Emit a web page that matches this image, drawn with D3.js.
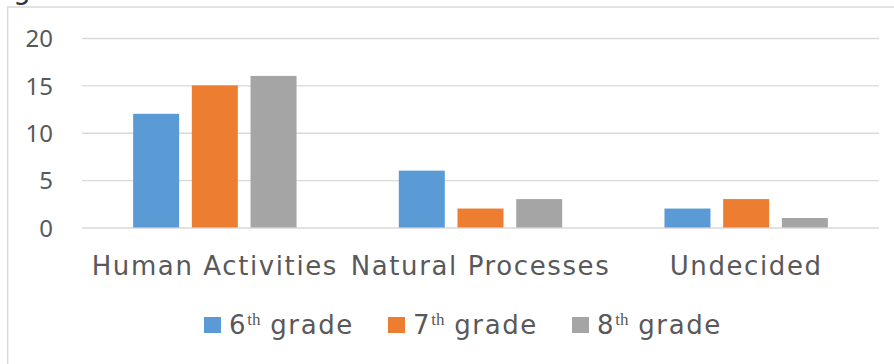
<!DOCTYPE html>
<html>
<head>
<meta charset="utf-8">
<script src="https://cdn.jsdelivr.net/npm/d3@7"></script>
<style>
  html, body { margin: 0; padding: 0; background: #fff; }
  svg { display: block; }
</style>
</head>
<body>
<svg id="chart" width="894" height="364"></svg>
<script>
const categories = ["Human Activities", "Natural Processes", "Undecided"];
const seriesNames = ["6", "7", "8"];
const seriesSuffix = "th";
const seriesWord = " grade";
const grade6 = [12, 6, 2];
const grade7 = [15, 2, 3];
const grade8 = [16, 3, 1];
const yTicks = [0, 5, 10, 15, 20];
const colors = ["#5B9BD5", "#ED7D31", "#A5A5A5"];

const seriesValues = [grade6, grade7, grade8];
const svg = d3.select("#chart");
const textColor = "#595959";
const labelFont = "'DejaVu Sans', sans-serif";

// partially cropped title glyph at top (cut off in the reference as well)
svg.append("text").attr("x", 13).attr("y", -1)
  .attr("font-family", labelFont).attr("font-size", 28).attr("fill", "#333")
  .text("g");

// chart border
svg.append("path")
  .attr("d", "M7.7,364 L7.7,7 L894,7")
  .attr("fill", "none").attr("stroke", "#d9d9d9").attr("stroke-width", 1.4);

const plotLeft = 82, plotRight = 879;
const y = d3.scaleLinear().domain([0, 20]).range([227.5, 38]);
const x0 = d3.scaleBand().domain(categories).range([plotLeft, plotRight]);
const groupW = 163.4;
const x1 = d3.scaleBand().domain(seriesNames)
  .range([(x0.bandwidth() - groupW) / 2, (x0.bandwidth() + groupW) / 2])
  .paddingInner(0.2164).paddingOuter(0);

// gridlines + tick labels
const yAxis = d3.axisLeft(y).tickValues(yTicks).tickSize(-(plotRight - plotLeft)).tickPadding(28);
const ga = svg.append("g").attr("transform", `translate(${plotLeft},0)`).call(yAxis);
ga.select(".domain").remove();
ga.selectAll(".tick line").attr("stroke", "#d9d9d9").attr("stroke-width", 1.4);
ga.selectAll(".tick text")
  .attr("x", -(plotLeft - 53))
  .attr("font-family", "'Noto Sans', sans-serif").attr("font-size", 24)
  .attr("fill", textColor).attr("dy", "0.36em");

// bars
const groups = svg.append("g").selectAll("g").data(categories).join("g")
  .attr("transform", d => `translate(${x0(d)},0)`);
groups.selectAll("rect")
  .data((c, ci) => seriesNames.map((s, si) => ({ s, si, v: seriesValues[si][ci] })))
  .join("rect")
  .attr("x", d => x1(d.s))
  .attr("width", x1.bandwidth())
  .attr("y", d => y(d.v))
  .attr("height", d => y(0) - y(d.v))
  .attr("fill", d => colors[d.si]);

// x axis labels
const xAxis = d3.axisBottom(x0).tickSize(0).tickPadding(0);
const gx = svg.append("g").attr("transform", `translate(0,275)`).call(xAxis);
gx.select(".domain").remove();
gx.selectAll(".tick text")
  .attr("y", 0).attr("dy", 0)
  .attr("font-family", labelFont).attr("font-size", 26)
  .attr("letter-spacing", 1.6)
  .attr("fill", textColor);

// legend
const legend = svg.append("g");
const legendStart = 204, legendStep = 184;
seriesNames.forEach((s, i) => {
  const lx = legendStart + i * legendStep;
  legend.append("rect").attr("x", lx).attr("y", 317).attr("width", 17).attr("height", 16)
    .attr("fill", colors[i]);
  const t = legend.append("text").attr("x", lx + 25).attr("y", 334)
    .attr("font-family", labelFont).attr("font-size", 26).attr("letter-spacing", 1.6)
    .attr("fill", textColor);
  t.append("tspan").text(s);
  t.append("tspan").attr("font-family", "'Liberation Serif', serif").attr("font-size", 17)
    .attr("letter-spacing", 0).attr("dy", -9).text(seriesSuffix);
  t.append("tspan").attr("dy", 9).text(seriesWord);
});
</script>
</body>
</html>
